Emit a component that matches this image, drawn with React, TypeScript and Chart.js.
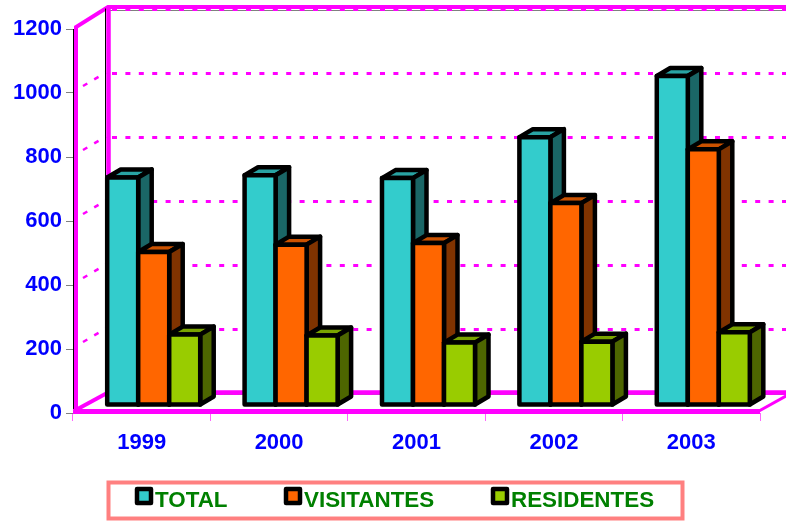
import React, { useEffect, useRef } from "react";
import { Chart, registerables } from "chart.js";

Chart.register(...registerables);

const categories = ["1999", "2000", "2001", "2002", "2003"];
const totalValues = [711, 718, 709, 837, 1028];
const visitantesValues = [478, 501, 506, 631, 799];
const residentesValues = [220, 217, 195, 198, 227];
const seriesNames = ["TOTAL", "VISITANTES", "RESIDENTES"];
const frontColors = ["#33CCCC", "#FF6600", "#99CC00"];
const topColors = ["#29A3A3", "#CC5200", "#7AA300"];
const sideColors = ["#1A6666", "#803300", "#4D6600"];

const FONT = '"Liberation Sans", Arial, sans-serif';
const MAGENTA = "#FF00FF";

const wallPlugin = {
  id: "wall3d",
  beforeDatasetsDraw(chart: any) {
    const { ctx, chartArea: a, scales } = chart;
    const y = scales.y;
    const wx = 34;
    const wy = -20.5;
    const backL = a.left + wx;
    ctx.save();
    ctx.lineCap = "butt";
    // gridlines on the walls
    for (const tick of y.ticks) {
      const py = y.getPixelForValue(tick.value);
      const by = py + wy;
      if (tick.value === 0 || tick.value === 1200) {
        ctx.strokeStyle = "#808080";
        ctx.lineWidth = 1;
        ctx.setLineDash([]);
        ctx.beginPath();
        ctx.moveTo(backL, by + 2);
        ctx.lineTo(786, by + 2);
        ctx.stroke();
      }
      ctx.strokeStyle = MAGENTA;
      ctx.lineWidth = 3;
      ctx.setLineDash([5, 8.4]);
      ctx.lineDashOffset = 0;
      ctx.beginPath();
      ctx.moveTo(backL + 5, by + 1);
      ctx.lineTo(786, by + 1);
      ctx.stroke();
      if (tick.value !== 0 && tick.value !== 1200) {
        ctx.lineWidth = 2.5;
        ctx.setLineDash([5, 8]);
        ctx.beginPath();
        ctx.moveTo(a.left + 10, py - 7);
        ctx.lineTo(backL - 1, by);
        ctx.stroke();
      }
    }
    ctx.setLineDash([]);
    ctx.strokeStyle = MAGENTA;
    ctx.lineJoin = "miter";
    // left wall
    ctx.lineWidth = 4;
    ctx.beginPath();
    ctx.moveTo(a.left + 3, a.bottom);
    ctx.lineTo(a.left + 3, a.top - 2);
    ctx.lineTo(backL + 1, a.top + wy - 1.5);
    ctx.lineTo(786, a.top + wy - 1.5);
    ctx.stroke();
    ctx.lineWidth = 4.5;
    ctx.beginPath();
    ctx.moveTo(backL + 1.5, a.top + wy - 1.5);
    ctx.lineTo(backL + 1.5, a.bottom + wy);
    ctx.lineTo(786, a.bottom + wy);
    ctx.stroke();
    ctx.strokeStyle = "#000000";
    ctx.lineWidth = 1;
    ctx.beginPath();
    ctx.moveTo(backL - 1.5, a.top + wy);
    ctx.lineTo(backL - 1.5, a.bottom + wy);
    ctx.stroke();
    // floor
    ctx.strokeStyle = MAGENTA;
    ctx.lineWidth = 4;
    ctx.beginPath();
    ctx.moveTo(a.left + 1, a.bottom - 2);
    ctx.lineTo(backL + 1, a.bottom + wy);
    ctx.stroke();
    ctx.lineWidth = 5;
    ctx.beginPath();
    ctx.moveTo(a.left, a.bottom - 1.5);
    ctx.lineTo(a.right, a.bottom - 1.5);
    ctx.stroke();
    ctx.lineWidth = 3;
    ctx.beginPath();
    ctx.moveTo(a.right - 1, a.bottom - 2);
    ctx.lineTo(a.right + wx, a.bottom + wy - 1);
    ctx.stroke();

    // bars
    const dx = 13.5;
    const dy = -8;
    ctx.translate(12, -8);
    ctx.lineWidth = 4.5;
    ctx.lineJoin = "round";
    ctx.strokeStyle = "#000000";
    chart.data.datasets.forEach((_: any, di: number) => {
      const meta = chart.getDatasetMeta(di);
      meta.data.forEach((bar: any) => {
        const l = bar.x - bar.width / 2;
        const r = bar.x + bar.width / 2;
        const t = bar.y;
        const b = bar.base;
        ctx.beginPath();
        ctx.moveTo(l, t);
        ctx.lineTo(l + dx, t + dy);
        ctx.lineTo(r + dx, t + dy);
        ctx.lineTo(r, t);
        ctx.closePath();
        ctx.fillStyle = topColors[di];
        ctx.fill();
        ctx.stroke();
        ctx.beginPath();
        ctx.moveTo(r, t);
        ctx.lineTo(r + dx, t + dy);
        ctx.lineTo(r + dx, b + dy);
        ctx.lineTo(r, b);
        ctx.closePath();
        ctx.fillStyle = sideColors[di];
        ctx.fill();
        ctx.stroke();
        bar.draw(ctx);
        ctx.beginPath();
        ctx.rect(l, t, r - l, b - t);
        ctx.stroke();
      });
    });
    ctx.restore();

    // legend
    ctx.save();
    ctx.strokeStyle = "#FF8080";
    ctx.lineWidth = 4;
    ctx.strokeRect(108.5, 482.5, 574, 36);
    const swatchX = [135, 284, 491];
    ctx.font = `bold 22.4px ${FONT}`;
    ctx.textBaseline = "alphabetic";
    ctx.textAlign = "left";
    seriesNames.forEach((name, i) => {
      const sx = swatchX[i];
      ctx.fillStyle = frontColors[i];
      ctx.strokeStyle = "#000000";
      ctx.lineWidth = 4.5;
      ctx.lineJoin = "round";
      ctx.beginPath();
      ctx.rect(sx + 2, 489, 14, 14);
      ctx.fill();
      ctx.stroke();
      ctx.fillStyle = "#008000";
      ctx.fillText(name, sx + 20, 507);
    });
    ctx.restore();
    return false;
  },
};

export default function App() {
  const ref = useRef<HTMLCanvasElement | null>(null);
  useEffect(() => {
    document.body.style.margin = "0";
    const chart = new Chart(ref.current as HTMLCanvasElement, {
      type: "bar",
      data: {
        labels: categories,
        datasets: [
          { label: seriesNames[0], data: totalValues, backgroundColor: frontColors[0] },
          { label: seriesNames[1], data: visitantesValues, backgroundColor: frontColors[1] },
          { label: seriesNames[2], data: residentesValues, backgroundColor: frontColors[2] },
        ],
      },
      options: {
        responsive: false,
        animation: false,
        categoryPercentage: 0.677,
        barPercentage: 1,
        layout: { padding: { top: 29, right: 26, bottom: 0, left: 0 } },
        plugins: { legend: { display: false }, tooltip: { enabled: false }, title: { display: false } },
        scales: {
          x: {
            afterFit: (s: any) => {
              s.height = 108;
            },
            border: { display: false },
            grid: { drawOnChartArea: false, drawTicks: true, tickLength: 8, tickColor: "#FF66FF", tickWidth: 1 },
            ticks: { color: "#0000FF", font: { family: FONT, size: 22, weight: "bold" }, padding: 9, maxRotation: 0 },
          },
          y: {
            min: 0,
            max: 1200,
            afterFit: (s: any) => {
              s.width = 73;
            },
            border: { display: true, color: "#000000", width: 1 },
            grid: { drawOnChartArea: false, drawTicks: true, tickLength: 7, tickColor: "#808080", tickWidth: 1 },
            ticks: {
              stepSize: 200,
              color: "#0000FF",
              font: { family: FONT, size: 22, weight: "bold" },
              padding: 4,
              callback: (v: any) => String(v),
            },
          },
        },
      } as any,
      plugins: [wallPlugin],
    });
    return () => chart.destroy();
  }, []);
  return <canvas ref={ref} width={786} height={521} style={{ display: "block" }} />;
}
